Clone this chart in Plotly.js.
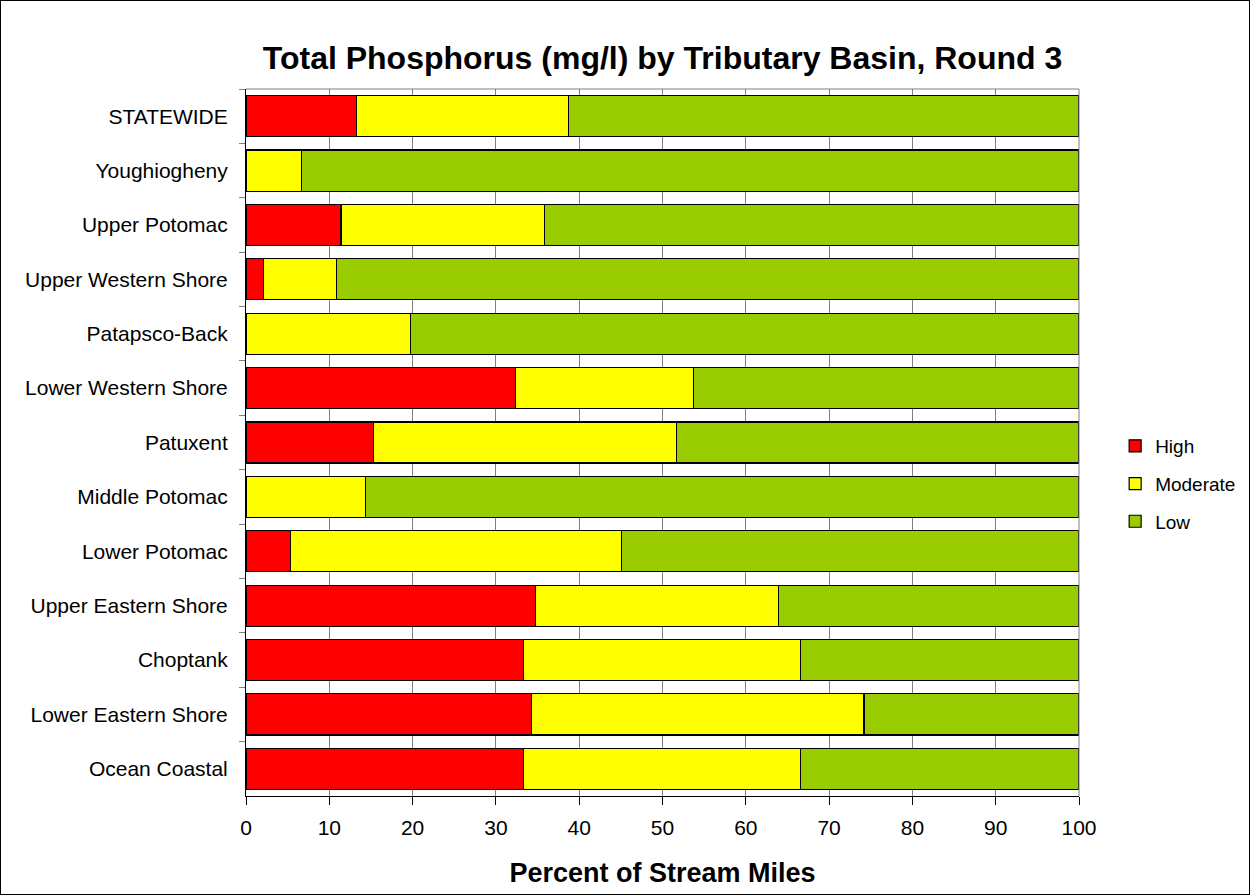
<!DOCTYPE html>
<html>
<head>
<meta charset="utf-8">
<script src="https://cdn.plot.ly/plotly-3.0.1.min.js"></script>
<style>
  html, body { margin: 0; padding: 0; background: #fff; }
  #wrap { position: relative; width: 1250px; height: 895px; }
  #chart { position: absolute; left: 0; top: 0; width: 1250px; height: 895px; }
  #frame { position: absolute; left: 0; top: 0; width: 1250px; height: 895px; box-sizing: border-box; border: 1px solid #000; pointer-events: none; }
</style>
</head>
<body>
<div id="wrap"><div id="chart"></div><div id="frame"></div></div>
<script>
const categories = ["STATEWIDE", "Youghiogheny", "Upper Potomac", "Upper Western Shore", "Patapsco-Back",
  "Lower Western Shore", "Patuxent", "Middle Potomac", "Lower Potomac", "Upper Eastern Shore",
  "Choptank", "Lower Eastern Shore", "Ocean Coastal"];
const highVals     = [13.3, 0,    11.4, 2.1,  0,    32.4, 15.3, 0,    5.3,  34.8, 33.3, 34.3, 33.3];
const moderateVals = [25.4, 6.7,  24.4, 8.8,  19.7, 21.3, 36.4, 14.3, 39.8, 29.1, 33.3, 39.9, 33.3];
const lowVals      = [61.3, 93.3, 64.2, 89.1, 80.3, 46.3, 48.3, 85.7, 54.9, 36.1, 33.4, 25.8, 33.4];
const xTicks = [0, 10, 20, 30, 40, 50, 60, 70, 80, 90, 100];

const FONT = "Arial, 'Liberation Sans', sans-serif";
function mk(name, vals, color, grp) {
  return {
    type: "bar", orientation: "h", name: name, x: vals, y: categories,
    legendgroup: grp,
    marker: { color: color, line: { color: "#000", width: 1.2 } },
    hoverinfo: "x+name"
  };
}
const data = [
  mk("High", highVals, "#FF0000", "g1"),
  mk("Moderate", moderateVals, "#FFFF00", "g2"),
  mk("Low", lowVals, "#99CC00", "g3")
];
const layout = {
  width: 1250, height: 895,
  margin: { l: 246, r: 171, t: 89, b: 99, pad: 0, autoexpand: false },
  paper_bgcolor: "#fff", plot_bgcolor: "#fff",
  barmode: "stack", bargap: 0.245,
  font: { family: FONT, color: "#000" },
  title: {
    text: "<b>Total Phosphorus (mg/l) by Tributary Basin, Round 3</b>",
    font: { family: FONT, size: 32, color: "#000" },
    x: 0.5, xref: "paper", xanchor: "center",
    y: 1 - 58 / 895, yref: "container", yanchor: "middle"
  },
  xaxis: {
    range: [0, 100], tickvals: xTicks, ticktext: xTicks.map(String),
    showgrid: true, gridcolor: "#808080", gridwidth: 1,
    showline: true, linecolor: "#000", linewidth: 1,
    ticks: "outside", ticklen: 8, tickcolor: "#000", tickwidth: 1,
    ticklabelstandoff: 5,
    tickfont: { family: FONT, size: 21, color: "#000" },
    zeroline: false, fixedrange: true,
    title: { text: "<b>Percent of Stream Miles</b>", font: { family: FONT, size: 27, color: "#000" }, standoff: 24 }
  },
  yaxis: {
    type: "category", autorange: "reversed",
    showgrid: false, showline: true, linecolor: "#000", linewidth: 1,
    ticks: "outside", tickson: "boundaries", ticklen: 6, tickcolor: "#808080",
    ticklabelstandoff: 13,
    tickfont: { family: FONT, size: 21, color: "#000" },
    zeroline: false, fixedrange: true
  },
  shapes: [
    { type: "line", xref: "paper", yref: "paper", x0: 0, x1: 1, y0: 1, y1: 1, line: { color: "#808080", width: 1 } },
    { type: "line", xref: "paper", yref: "paper", x0: 1, x1: 1, y0: 0, y1: 1, line: { color: "#808080", width: 1 } }
  ],
  showlegend: true,
  legend: {
    x: 1.0434, xanchor: "left", y: (796 - 484) / 707, yanchor: "middle",
    font: { family: FONT, size: 19, color: "#000" },
    tracegroupgap: 10, itemwidth: 30, traceorder: "grouped",
    bgcolor: "rgba(0,0,0,0)"
  }
};
Plotly.newPlot("chart", data, layout, { displayModeBar: false, staticPlot: true });
</script>
</body>
</html>
